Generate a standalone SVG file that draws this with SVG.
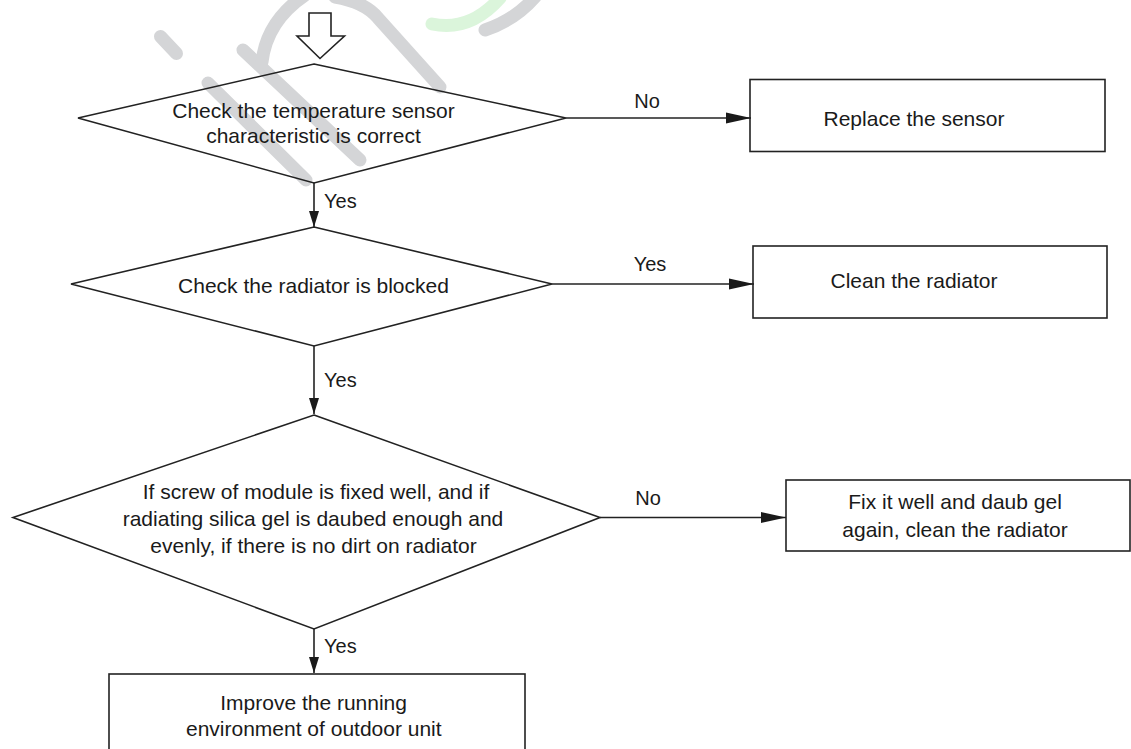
<svg xmlns="http://www.w3.org/2000/svg" width="1131" height="749" viewBox="0 0 1131 749">
<style>
.shape{fill:none;stroke:#222;stroke-width:1.6}
.box{fill:none;stroke:#222;stroke-width:1.6}
.wm{fill:none;stroke:#d4d5d7;stroke-width:13;stroke-linecap:round}
.wmg{fill:none;stroke:#dbf5db;stroke-width:13;stroke-linecap:round}
.t{font-family:"Liberation Sans",Arial,sans-serif;font-size:21px;fill:#1a1a1a;text-anchor:middle}
.lbl{font-family:"Liberation Sans",Arial,sans-serif;font-size:20px;fill:#1a1a1a}
.c{fill:none;stroke:#222;stroke-width:1.6}
</style>
<defs>
<marker id="ah" markerWidth="25" markerHeight="12" refX="25" refY="6" orient="auto" markerUnits="userSpaceOnUse">
<path d="M0,0.5 L25,6 L0,11.5 Z" fill="#1a1a1a"/>
</marker>
<marker id="av" markerWidth="16" markerHeight="12" refX="16" refY="6" orient="auto" markerUnits="userSpaceOnUse">
<path d="M0,1 L16,6 L0,11 Z" fill="#1a1a1a"/>
</marker>
</defs>
<rect width="1131" height="749" fill="#fff"/>
<g id="watermark">
<path class="wm" d="M160.5,36.5 L176.5,53.5"/>
<path class="wm" d="M208,83 L306,180"/>
<path class="wm" d="M243,50 L360,160"/>
<path class="wm" d="M262,62 C265,35 280,12 305,-5"/>
<path class="wm" d="M335,-3 Q365,2 378,18 L440,87"/>
<path class="wmg" d="M432,24 Q470,32 500,-2"/>
<path class="wm" d="M485,30 Q515,20 535,-3"/>
</g>
<g id="start">
<polygon points="309,13 331,13 331,36 344.5,36 320,58.5 297,36 309,36" fill="#fff" stroke="#222" stroke-width="1.6"/>
</g>
<g id="connectors">
<line class="c" x1="566" y1="118" x2="751" y2="118" marker-end="url(#ah)"/>
<line class="c" x1="552" y1="284" x2="754" y2="284" marker-end="url(#ah)"/>
<line class="c" x1="600" y1="517.5" x2="786" y2="517.5" marker-end="url(#ah)"/>
<line class="c" x1="314" y1="183" x2="314" y2="227" marker-end="url(#av)"/>
<line class="c" x1="314" y1="346" x2="314" y2="414" marker-end="url(#av)"/>
<line class="c" x1="314" y1="629" x2="314" y2="673" marker-end="url(#av)"/>
<text class="lbl" x="647" y="108" text-anchor="middle">No</text>
<text class="lbl" x="650" y="271" text-anchor="middle">Yes</text>
<text class="lbl" x="648" y="505" text-anchor="middle">No</text>
<text class="lbl" x="324" y="208">Yes</text>
<text class="lbl" x="324" y="387">Yes</text>
<text class="lbl" x="324" y="653">Yes</text>
</g>
<g id="d1">
<polygon class="shape" points="314,64 566,118 314,183 78,118"/>
<text class="t" x="313.5" y="118">Check the temperature sensor</text>
<text class="t" x="313.5" y="143">characteristic is correct</text>
</g>
<g id="b1">
<rect class="box" x="750" y="79.5" width="355" height="72"/>
<text class="t" x="914" y="126">Replace the sensor</text>
</g>
<g id="d2">
<polygon class="shape" points="314,227 552,284 314,346 71,284"/>
<text class="t" x="313.5" y="293">Check the radiator is blocked</text>
</g>
<g id="b2">
<rect class="box" x="753" y="246" width="354" height="72"/>
<text class="t" x="914" y="288">Clean the radiator</text>
</g>
<g id="d3">
<polygon class="shape" points="314,415 600,517.5 314,629 13,517.5"/>
<text class="t" x="316" y="499">If screw of module is fixed well, and if</text>
<text class="t" x="313" y="526">radiating silica gel is daubed enough and</text>
<text class="t" x="313.5" y="553">evenly, if there is no dirt on radiator</text>
</g>
<g id="b3">
<rect class="box" x="786" y="480" width="344" height="71"/>
<text class="t" x="955" y="509">Fix it well and daub gel</text>
<text class="t" x="955" y="536.5">again, clean the radiator</text>
</g>
<g id="b4">
<rect class="box" x="109" y="674" width="416" height="90"/>
<text class="t" x="313.6" y="710">Improve the running</text>
<text class="t" x="313.8" y="736">environment of outdoor unit</text>
</g>
</svg>
